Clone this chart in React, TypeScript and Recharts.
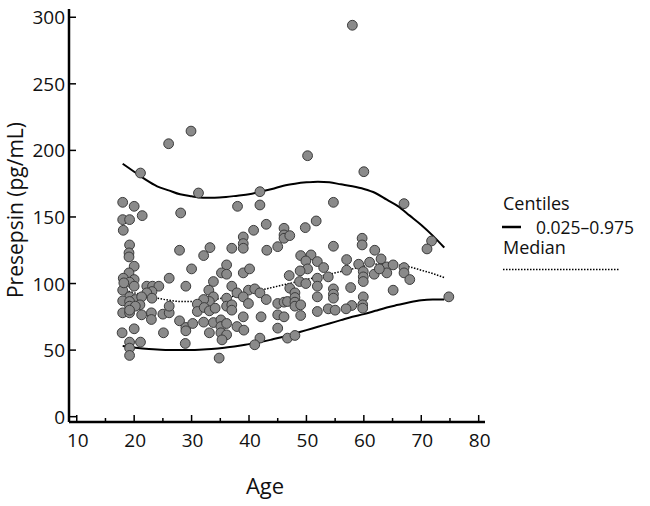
import React from 'react';
import { ComposedChart, Scatter, Line, XAxis, YAxis, Legend } from 'recharts';

// individual subjects (age, presepsin pg/mL)
const pointAges = [
  26.0, 21.1, 18.0, 20.0, 21.4, 18.0, 19.2, 18.1, 28.1, 19.2,
  19.1, 19.1, 27.9, 20.0, 19.1, 18.1, 20.0, 19.2, 26.1, 22.2,
  23.2, 24.3, 20.0, 18.0, 29.0, 23.1, 22.2, 19.2, 20.2, 21.3,
  23.1, 18.0, 19.2, 21.0, 18.0, 19.2, 19.2, 20.2, 21.3, 23.0,
  23.0, 25.0, 26.1, 26.1, 27.9, 29.0, 29.0, 17.9, 20.0, 25.1,
  19.2, 21.1, 19.2, 19.2, 28.9, 19.2, 18.2, 29.9, 31.2, 41.9,
  38.0, 41.9, 43.0, 40.8, 46.1, 46.1, 46.1, 39.0, 39.0, 39.0,
  33.2, 32.1, 37.0, 43.1, 45.0, 30.0, 36.1, 35.2, 36.1, 39.0,
  40.1, 33.8, 33.0, 37.0, 37.9, 39.9, 41.0, 41.9, 33.8, 33.1,
  36.1, 39.0, 32.1, 31.0, 31.0, 32.2, 33.1, 34.1, 36.1, 37.0,
  37.0, 39.9, 43.0, 45.0, 46.1, 46.7, 39.0, 42.1, 45.0, 46.1,
  30.2, 32.1, 33.8, 35.1, 35.1, 36.1, 37.9, 39.1, 33.1, 35.1,
  36.1, 35.3, 41.9, 41.0, 45.0, 46.7, 34.8, 50.2, 60.0, 54.7,
  51.7, 49.8, 47.1, 54.7, 59.7, 59.7, 61.9, 49.0, 50.8, 51.9,
  49.9, 53.0, 57.0, 59.1, 61.0, 63.0, 50.2, 48.9, 57.0, 64.0,
  64.0, 61.8, 59.9, 59.9, 59.9, 47.0, 51.9, 51.9, 53.8, 48.8,
  49.9, 47.1, 57.7, 54.7, 54.7, 54.7, 48.0, 48.0, 48.0, 48.0,
  49.0, 51.9, 59.9, 57.9, 56.9, 59.8, 59.8, 53.8, 55.0, 51.9,
  49.0, 48.0, 67.0, 71.8, 71.0, 62.7, 65.1, 67.0, 67.0, 68.0,
  65.1, 74.8, 58.0,
];
const pointValues = [
  205, 183, 161, 158, 151, 148, 148, 140, 153, 129,
  123, 120, 125, 113, 108, 104, 103, 101, 104, 98,
  98, 98, 98, 95, 98, 94, 93, 90, 88, 90,
  89, 87, 86.5, 84, 78, 78, 83, 83, 76.5, 78,
  73, 77, 78, 83, 72, 67, 64.5, 63, 66, 63,
  56, 56, 51.5, 46, 55, 80, 100.5, 214.5, 168, 169,
  158, 159, 144.5, 140, 141.5, 136.5, 134, 135, 130, 126.5,
  127, 121, 126.5, 125, 127.7, 111, 114, 108, 107, 108,
  111, 101.5, 95, 98, 93, 95, 96, 93, 90, 86.5,
  89, 90, 88, 84.5, 79, 82, 79.5, 81.5, 83, 84,
  80, 85, 88, 85, 86, 86.5, 75, 75, 76.5, 75,
  70, 71, 70.7, 72.7, 67.7, 70, 67.7, 65, 63, 63,
  61.5, 57.7, 59, 54, 66.5, 59, 44, 196, 184, 161,
  147, 142, 136, 128, 134, 129, 125, 121, 121.5, 116.5,
  117, 112, 118, 114.5, 116, 118.5, 111, 109.5, 110, 112.5,
  108, 107, 109, 105, 101.5, 106, 104, 98, 105, 101.5,
  100, 96.5, 97, 96, 92, 89, 93, 89.5, 86, 83,
  84, 90, 90, 83.5, 81, 84, 81.5, 81, 80, 79,
  76, 61, 160, 132, 126, 111, 114, 112, 108, 103,
  95, 90, 294,
];

// fitted centile curves
const curveAges = [18, 20, 22, 24, 26, 28, 30, 32, 34, 36, 38, 40, 42, 44, 46, 48, 50, 52, 54, 56, 58, 60, 62, 64, 66, 68, 70, 72, 74];
const upperCentile = [190, 184, 178, 173, 170, 167, 165.5, 164.5, 164.5, 165, 166, 167, 169, 171, 173.5, 175, 176, 176.5, 176, 174.5, 173, 171, 168, 163, 158, 151, 144, 136, 127];
const lowerCentile = [53, 52, 51, 50.5, 50, 50, 50, 50.5, 51, 52, 53, 54.5, 56, 58, 60, 62.5, 65, 67.5, 70, 72.5, 75, 77, 79.5, 82, 84, 86, 87.5, 88, 88];
const medianCurve = [95.5, 93, 91, 89, 87.5, 86.5, 86.5, 87, 88, 89.5, 91, 93, 95, 97, 99, 101, 103, 105, 107, 109, 111, 113, 114.5, 115, 114, 112.5, 110, 107.5, 104.5];

const xTicks = [10, 15, 20, 25, 30, 35, 40, 45, 50, 55, 60, 65, 70, 75, 80];
const yTicks = [0, 50, 100, 150, 200, 250, 300];

const points = pointAges.map((age, i) => ({ age, value: pointValues[i] }));
const toCurve = (vals: number[]) => curveAges.map((age, i) => ({ age, value: vals[i] }));

const FONT = '"Open Sans", sans-serif';
const INK = '#111';

function AgeTick({ x, y, payload }: any) {
  const major = payload.value % 10 === 0;
  return (
    <g>
      <line x1={x} x2={x} y1={y} y2={y - (major ? 7 : 4)} stroke="#000" strokeWidth={1.5} />
      {major && (
        <text x={x + 1} y={y + 25} textAnchor="middle" fontSize={19} fontFamily={FONT} fill={INK}>
          {payload.value}
        </text>
      )}
    </g>
  );
}

function ValueTick({ x, y, payload }: any) {
  return (
    <g>
      <line x1={x} x2={x + 7} y1={y} y2={y} stroke="#000" strokeWidth={1.5} />
      <text x={x - 4} y={y + 7} textAnchor="end" fontSize={19} fontFamily={FONT} fill={INK}>
        {payload.value}
      </text>
    </g>
  );
}

const AgeLabel = () => (
  <text x={265} y={494} textAnchor="middle" fontSize={22} fontFamily={FONT} fill={INK}>Age</text>
);

const ValueLabel = () => (
  <text transform="translate(23,210) rotate(-90)" textAnchor="middle" fontSize={21} fontFamily={FONT} fill={INK}>
    Presepsin (pg/mL)
  </text>
);

function CentileLegend() {
  return (
    <svg width={150} height={95} style={{ display: 'block' }}>
      <g fontFamily={FONT} fontSize={18} fill={INK}>
        <text x={3} y={25}>Centiles</text>
        <line x1={2} x2={21} y1={42} y2={42} stroke="#000" strokeWidth={2.5} />
        <text x={36} y={48.5} fontSize={17.5}>0.025–0.975</text>
        <text x={3} y={69}>Median</text>
      </g>
      <line x1={3} x2={120} y1={84.5} y2={84.5} stroke="#000" strokeWidth={1.5} strokeDasharray="1.5 1.5" />
    </svg>
  );
}

export default function App() {
  return (
    <div style={{ width: 650, height: 506, background: '#fff' }}>
      <style>{'body{margin:0}'}</style>
      <ComposedChart width={650} height={506} margin={{ top: 9, right: 165, bottom: 0, left: 0 }}>
        <XAxis
          type="number"
          dataKey="age"
          domain={[8.65, 81.1]}
          ticks={xTicks}
          allowDataOverflow
          height={84}
          tickLine={false}
          tickSize={0}
          tickMargin={0}
          tick={<AgeTick />}
          axisLine={{ stroke: '#000', strokeWidth: 2.5 }}
          label={<AgeLabel />}
        />
        <YAxis
          type="number"
          dataKey="value"
          domain={[-4, 306.2]}
          ticks={yTicks}
          allowDataOverflow
          width={69}
          tickLine={false}
          tickSize={0}
          tickMargin={0}
          tick={<ValueTick />}
          axisLine={{ stroke: '#000', strokeWidth: 2.5 }}
          label={<ValueLabel />}
        />
        <Scatter
          data={points}
          dataKey="value"
          isAnimationActive={false}
          shape={(p: any) => (
            <circle cx={p.cx} cy={p.cy} r={4.9} fill="#8a8a8a" stroke="#3c3c3c" strokeWidth={1} />
          )}
        />
        <Line data={toCurve(upperCentile)} dataKey="value" type="monotone" dot={false} stroke="#000" strokeWidth={2} isAnimationActive={false} />
        <Line data={toCurve(lowerCentile)} dataKey="value" type="monotone" dot={false} stroke="#000" strokeWidth={2} isAnimationActive={false} />
        <Line data={toCurve(medianCurve)} dataKey="value" type="monotone" dot={false} stroke="#000" strokeWidth={1.5} strokeDasharray="1.5 1.5" isAnimationActive={false} />
        <Legend
          layout="horizontal"
          align="center"
          verticalAlign="middle"
          wrapperStyle={{ left: 500, top: 185, width: 150, height: 95 }}
          content={() => <CentileLegend />}
        />
      </ComposedChart>
    </div>
  );
}
